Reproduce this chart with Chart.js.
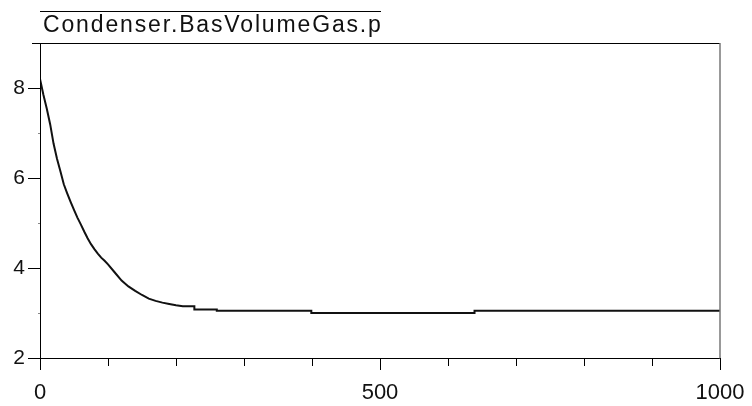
<!DOCTYPE html>
<html>
<head>
<meta charset="utf-8">
<script src="https://cdn.jsdelivr.net/npm/chart.js@4.4.1/dist/chart.umd.min.js"></script>
<style>
  html, body { margin: 0; padding: 0; background: #fff; }
  #wrap { width: 752px; height: 406px; }
</style>
</head>
<body>
<div id="wrap"><canvas id="chart" width="752" height="406"></canvas></div>
<script>
// time values (s) and pressure values
// (repeated times in the tail are the small steps of the solver output)
const times = [0, 5, 10, 15, 20, 25, 30, 35, 40, 45, 50, 55, 60, 65, 70, 75, 80, 85, 90, 95, 100,
  110, 120, 130, 140, 150, 160, 170, 180, 190, 200, 210, 227, 227, 260, 260, 399, 399, 639, 639, 1000];
const pressure = [8.20, 7.85, 7.54, 7.19, 6.76, 6.43, 6.15, 5.86, 5.66, 5.47, 5.29, 5.12, 4.97, 4.81, 4.66, 4.53, 4.42, 4.32, 4.23, 4.16, 4.08,
  3.90, 3.72, 3.59, 3.49, 3.40, 3.32, 3.27, 3.23, 3.20, 3.17, 3.15, 3.15, 3.08, 3.08, 3.05, 3.05, 3.00, 3.00, 3.05, 3.05];
const seriesName = 'Condenser.BasVolumeGas.p';
const xLabels = [0, 500, 1000];
const yLabels = [2, 4, 6, 8];

const points = times.map((t, i) => ({ x: t, y: pressure[i] }));

// frame, tick marks and the legend
const framePlugin = {
  id: 'frame',
  afterDraw(chart) {
    const ctx = chart.ctx;
    const a = chart.chartArea;
    const xs = chart.scales.x, ys = chart.scales.y;
    ctx.save();
    ctx.lineWidth = 1;
    ctx.strokeStyle = '#000';
    // left + bottom + top
    ctx.beginPath();
    ctx.moveTo(a.left + 0.5, a.top);
    ctx.lineTo(a.left + 0.5, a.bottom + 0.5);
    ctx.lineTo(a.right, a.bottom + 0.5);
    ctx.moveTo(a.left - 8, a.top + 0.5);
    ctx.lineTo(a.right, a.top + 0.5);
    ctx.stroke();
    ctx.strokeStyle = '#777';
    ctx.lineWidth = 1.5;
    ctx.beginPath();
    ctx.moveTo(a.right, a.top);
    ctx.lineTo(a.right, a.bottom + 0.5);
    ctx.stroke();

    // y ticks
    ctx.lineWidth = 1;
    for (let v = 2; v <= 8; v++) {
      const y = Math.round(ys.getPixelForValue(v)) + 0.5;
      const major = yLabels.includes(v);
      ctx.strokeStyle = major ? '#000' : '#888';
      ctx.beginPath();
      ctx.moveTo(a.left - (major ? 12 : 2), y);
      ctx.lineTo(a.left, y);
      ctx.stroke();
    }
    // x ticks
    for (let v = 0; v <= 1000; v += 100) {
      const x = Math.round(xs.getPixelForValue(v)) + 0.5;
      const major = xLabels.includes(v);
      ctx.strokeStyle = '#000';
      ctx.beginPath();
      ctx.moveTo(x, a.bottom);
      ctx.lineTo(x, a.bottom + (major ? 12 : 8));
      ctx.stroke();
    }

    // legend
    ctx.strokeStyle = '#000';
    ctx.beginPath();
    ctx.moveTo(40, 11.5);
    ctx.lineTo(381, 11.5);
    ctx.stroke();
    ctx.fillStyle = '#111';
    ctx.font = '23px "Liberation Sans", Arial, sans-serif';
    ctx.letterSpacing = '1.85px';
    ctx.textBaseline = 'alphabetic';
    ctx.textAlign = 'left';
    ctx.fillText(seriesName, 43, 32);
    ctx.restore();
  }
};

new Chart(document.getElementById('chart'), {
  type: 'line',
  data: {
    datasets: [{
      label: seriesName,
      data: points,
      borderColor: '#111',
      borderWidth: 2,
      pointRadius: 0,
      tension: 0,
      fill: false
    }]
  },
  options: {
    responsive: false,
    animation: false,
    layout: { padding: { top: 43, right: 32, left: 0, bottom: 0 } },
    plugins: {
      legend: { display: false },
      tooltip: { enabled: false }
    },
    scales: {
      x: {
        type: 'linear',
        min: 0,
        max: 1000,
        border: { display: false },
        grid: { display: false, drawTicks: false },
        ticks: {
          stepSize: 100,
          autoSkip: false,
          maxRotation: 0,
          padding: 22,
          color: '#111',
          font: { family: '"Liberation Sans", Arial, sans-serif', size: 22 },
          callback: v => xLabels.includes(v) ? String(v) : ''
        },
        afterFit: s => { s.height = 48; s.paddingLeft = 0; s.paddingRight = 0; }
      },
      y: {
        min: 2,
        max: 9,
        border: { display: false },
        grid: { display: false, drawTicks: false },
        ticks: {
          stepSize: 1,
          padding: 15,
          color: '#111',
          font: { family: '"Liberation Sans", Arial, sans-serif', size: 21 },
          callback: v => yLabels.includes(v) ? String(v) : ''
        },
        afterFit: s => { s.width = 40; s.paddingTop = 0; s.paddingBottom = 0; }
      }
    }
  },
  plugins: [framePlugin]
});
</script>
</body>
</html>
